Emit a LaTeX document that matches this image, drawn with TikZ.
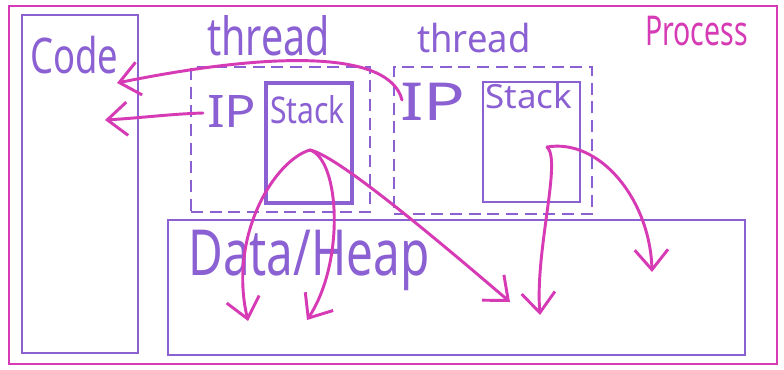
\documentclass[tikz,border=0pt]{standalone}
\usepackage{fontspec}
\setmainfont{Noto Sans}
\usetikzlibrary{arrows.meta,fit}
\definecolor{penpurple}{RGB}{138,96,210}
\definecolor{penpink}{RGB}{214,58,180}
% text squeezed to a given width and height, like handwriting
\newcommand\handtext[3]{\resizebox{#1}{#2}{#3}}

\begin{document}
\begin{tikzpicture}[x=0.75pt,y=-0.75pt,
  processframe/.style={draw=penpink, line width=1.8pt, inner sep=0pt},
  areabox/.style={draw=penpurple, line width=2.2pt, inner sep=0pt},
  threadbox/.style={draw=penpurple, line width=1.8pt, dash pattern=on 9pt off 5pt, inner sep=0pt},
  handlabel/.style={anchor=base west, inner sep=0pt, text=penpurple},
  callarrow/.style={draw=penpink, line width=2.2pt, line cap=round,
    -{Straight Barb[length=15pt,width=25pt]}},
]
\fill[white] (0,0) rectangle (784,369);
\useasboundingbox (0,0) rectangle (784,369);

% process and its regions
\node[processframe, fit={(9,6) (777,364)}] (process) {};
\node[areabox, fit={(22,15) (138,353)}] (code) {};
\node[areabox, fit={(168,220) (745,355)}] (heap) {};

% threads with their stacks
\node[threadbox, fit={(191,67) (370,212)}] (thread1) {};
\node[threadbox, fit={(394,67) (592,214)}] (thread2) {};
\node[areabox, line width=2.8pt, fit={(266,83) (352,203)}] (stack1) {};
\node[areabox, line width=1.8pt, fit={(483,82) (580,202)}] (stack2) {};

% labels
\node[handlabel] (codelbl) at (30,73) {\handtext{66pt}{28pt}{Code}};
\node[handlabel] (thr1lbl) at (207,55) {\handtext{92pt}{30pt}{thread}};
\node[handlabel] (thr2lbl) at (417,52) {\handtext{85pt}{22pt}{thread}};
\node[handlabel] (ip1) at (207,127) {\handtext{37pt}{24pt}{IP}};
\node[handlabel] (stk1lbl) at (270,123) {\handtext{56pt}{21pt}{Stack}};
\node[handlabel] (ip2) at (400,120) {\handtext{49pt}{28pt}{IP}};
\node[handlabel] (stk2lbl) at (485,108) {\handtext{65pt}{19pt}{Stack}};
\node[handlabel] (heaplbl) at (188,275) {\handtext{181pt}{34pt}{Data/Heap}};
\node[handlabel, text=penpink] (proclbl) at (645,45) {\handtext{77pt}{22pt}{Process}};

% arrow end points
\coordinate (ipa) at (402,100);
\coordinate (ipb) at (203,113);
\coordinate (codea) at (117,83);
\coordinate (codeb) at (105,120);
\coordinate (s1) at (310,150);
\coordinate (s2) at (547,147);
\coordinate (h1) at (248,321);
\coordinate (h2) at (307,320);
\coordinate (h3) at (510,302);
\coordinate (h4) at (540,315);
\coordinate (h5) at (652,272);

% instruction pointers into the code
\draw[callarrow] (ipa) .. controls (390,52) and (280,50) .. (codea);
\draw[callarrow] (ipb) .. controls (170,114) and (140,118) .. (codeb);

% stack references into the heap
\draw[callarrow] (s1) .. controls (275,160) and (228,235) .. (h1);
\draw[callarrow] (s1) .. controls (340,160) and (345,262) .. (h2);
\draw[callarrow] (s1) .. controls (335,155) and (420,225) .. (h3);
\draw[callarrow] (s2) .. controls (562,160) and (535,250) .. (h4);
\draw[callarrow] (s2) .. controls (600,138) and (650,200) .. (h5);
\end{tikzpicture}
\end{document}
